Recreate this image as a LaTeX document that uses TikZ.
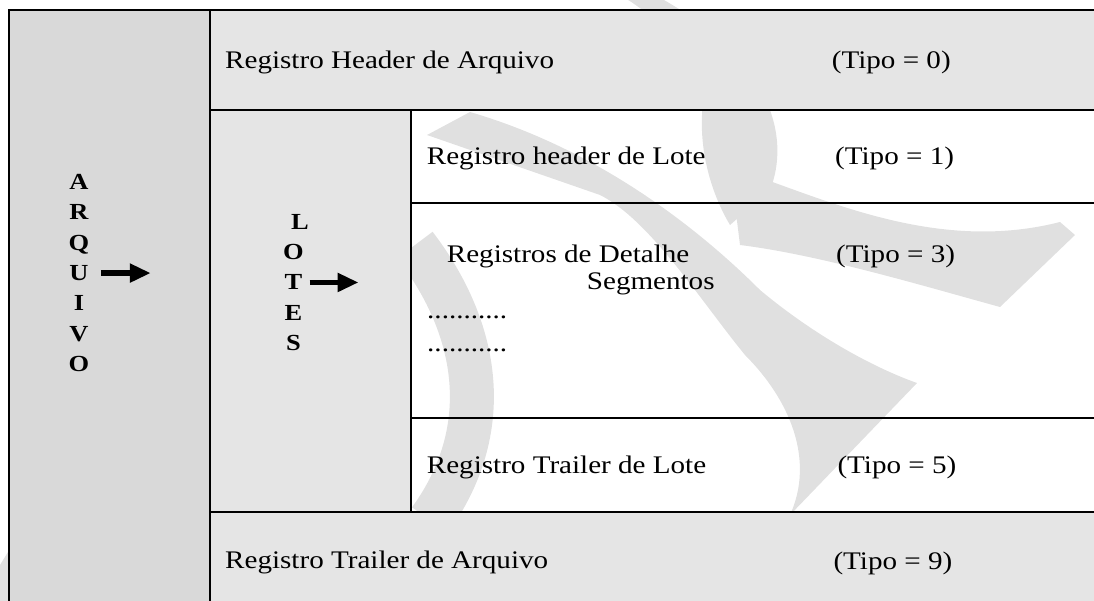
\documentclass[tikz,border=0pt]{standalone}
\usepackage{fontspec}
\setmainfont[FakeStretch=1.15]{Liberation Serif}
\usepackage{tikz}
\usetikzlibrary{arrows.meta}

\begin{document}
\begin{tikzpicture}[
    x=1pt, y=-1pt,
    grade/.style={draw, line width=2.6pt},
    escuro/.style={fill=black!15},
    claro/.style={fill=black!10},
    marca/.style={fill=black!12},
    rotulo/.style={anchor=base west, inner sep=0pt, font=\fontsize{25.3}{30}\selectfont},
    letra/.style={anchor=base, inner sep=0pt, font=\bfseries\fontsize{23}{26}\selectfont},
    seta/.style={line width=5.5pt, -{Triangle[length=21pt,width=18pt]}}
]
\useasboundingbox (0,0) rectangle (1094,601);
\clip (0,0) rectangle (1094,601);

% Watermark behind the table
\draw[draw=black!12, line width=44pt] (415,245) .. controls (480,330) and (495,430) .. (430,520);
\fill[marca] (0,565) -- (8,552) -- (8,601) -- (0,601) -- cycle;
\fill[marca] (620,-5) .. controls (680,30) and (705,80) .. (702,115) .. controls (700,160) and (715,200) .. (730,225) -- (770,190) .. controls (790,140) and (775,60) .. (655,-5) -- cycle;
\fill[marca] (735,205) -- (767,180) .. controls (850,210) and (950,250) .. (1060,222) -- (1075,235) -- (1000,307) .. controls (920,285) and (820,255) .. (740,245) -- cycle;
\fill[marca] (427,135) -- (470,112) .. controls (600,150) and (700,230) .. (760,290) .. controls (820,340) and (880,370) .. (917,383) -- (790,515) .. controls (815,460) and (790,400) .. (745,355) .. controls (700,300) and (650,220) .. (600,195) -- cycle;

% Cells
\path[grade, escuro] (9,10) rectangle (210,640);
\path[grade, claro] (210,10) rectangle (1120,110);
\path[grade, claro] (210,110) rectangle (411,512);
\path[grade] (411,110) rectangle (1120,203);
\path[grade] (411,203) rectangle (1120,418);
\path[grade] (411,418) rectangle (1120,512);
\path[grade, claro] (210,512) rectangle (1120,640);

% Vertical words
\foreach \l [count=\i] in {A,R,Q,U,I,V,O}
  \node[letra] (arq\i) at (79,{189.3+30.4*(\i-1)}) {\l};
\node[letra] (lot1) at (300,230) {L};
\foreach \l [count=\i from 2] in {O,T,E,S}
  \node[letra] (lot\i) at (293.5,{230+30*(\i-1)}) {\l};

\draw[seta] ([xshift=12pt]arq4.east) -- ++(50,0);
\draw[seta] ([xshift=7pt]lot3.east) -- ++(49,0);

% Records
\node[rotulo] (hdrarq) at (225,68.3) {Registro Header de Arquivo};
\node[rotulo] (tipo0) at (831.7,68.3) {(Tipo = 0)};
\node[rotulo] (hdrlote) at (426.7,165) {Registro header de Lote};
\node[rotulo] (tipo1) at (835,165) {(Tipo = 1)};
\node[rotulo] (detalhe) at (446.7,263) {Registros de Detalhe};
\node[rotulo] (tipo3) at (836,263) {(Tipo = 3)};
\node[rotulo] (segm) at (586.7,290) {Segmentos};
\node[rotulo] (pontos1) at (427,319) {...........};
\node[rotulo] (pontos2) at (427,351) {...........};
\node[rotulo] (trllote) at (426.7,473.3) {Registro Trailer de Lote};
\node[rotulo] (tipo5) at (837.3,473.3) {(Tipo = 5)};
\node[rotulo] (trlarq) at (225,568.3) {Registro Trailer de Arquivo};
\node[rotulo] (tipo9) at (833.3,569) {(Tipo = 9)};

\end{tikzpicture}
\end{document}
